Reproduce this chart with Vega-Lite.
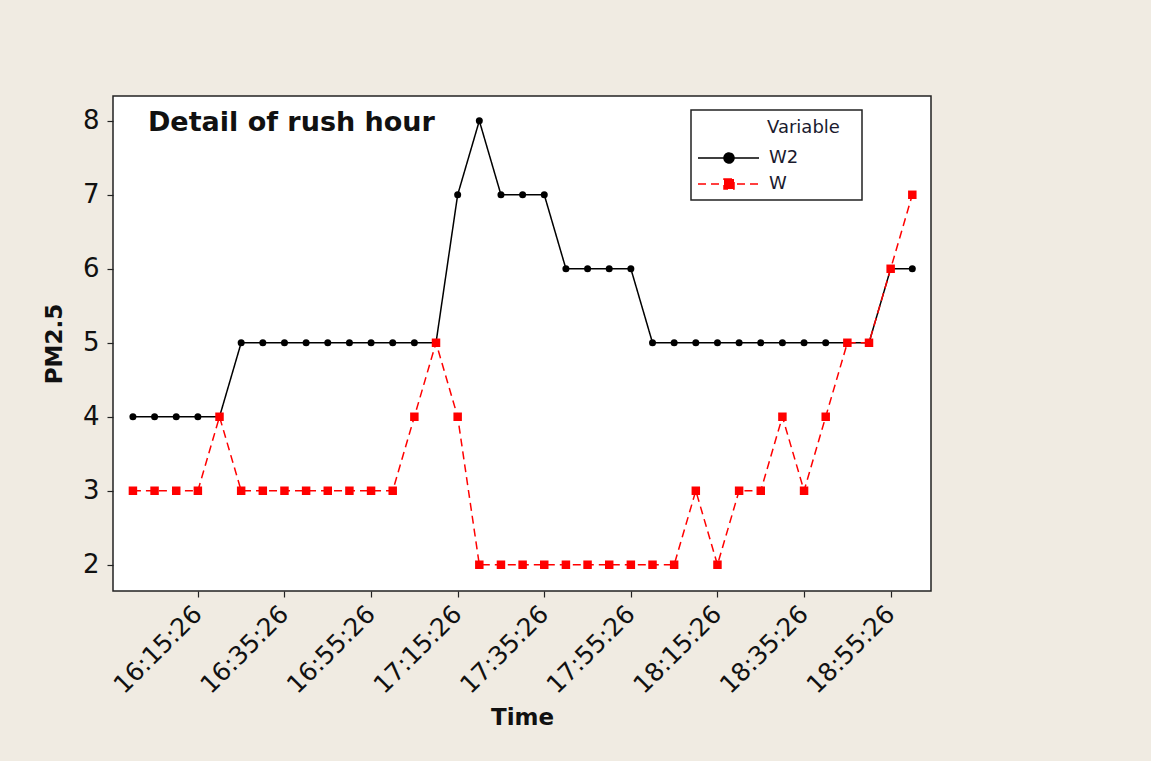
{
  "$schema": "https://vega.github.io/schema/vega-lite/v6.json",
  "autosize": "none",
  "width": 818,
  "height": 495,
  "padding": {"left": 113, "top": 96, "right": 220, "bottom": 170},
  "background": "#F0EBE2",
  "config": {
    "view": {"fill": "white", "stroke": "#222", "strokeWidth": 1.5},
    "font": "DejaVu Sans",
    "axis": {"grid": false, "domain": false, "tickColor": "#222", "tickWidth": 1.2, "labelColor": "#111", "titleColor": "#111", "labelFont": "DejaVu Sans", "titleFont": "DejaVu Sans", "titleFontWeight": "bold", "titleFontSize": 23}
  },
  "datasets": {
    "pm": [
      {"t": "2024-01-01T16:00:26", "series": "W2", "v": 4},
      {"t": "2024-01-01T16:05:26", "series": "W2", "v": 4},
      {"t": "2024-01-01T16:10:26", "series": "W2", "v": 4},
      {"t": "2024-01-01T16:15:26", "series": "W2", "v": 4},
      {"t": "2024-01-01T16:20:26", "series": "W2", "v": 4},
      {"t": "2024-01-01T16:25:26", "series": "W2", "v": 5},
      {"t": "2024-01-01T16:30:26", "series": "W2", "v": 5},
      {"t": "2024-01-01T16:35:26", "series": "W2", "v": 5},
      {"t": "2024-01-01T16:40:26", "series": "W2", "v": 5},
      {"t": "2024-01-01T16:45:26", "series": "W2", "v": 5},
      {"t": "2024-01-01T16:50:26", "series": "W2", "v": 5},
      {"t": "2024-01-01T16:55:26", "series": "W2", "v": 5},
      {"t": "2024-01-01T17:00:26", "series": "W2", "v": 5},
      {"t": "2024-01-01T17:05:26", "series": "W2", "v": 5},
      {"t": "2024-01-01T17:10:26", "series": "W2", "v": 5},
      {"t": "2024-01-01T17:15:26", "series": "W2", "v": 7},
      {"t": "2024-01-01T17:20:26", "series": "W2", "v": 8},
      {"t": "2024-01-01T17:25:26", "series": "W2", "v": 7},
      {"t": "2024-01-01T17:30:26", "series": "W2", "v": 7},
      {"t": "2024-01-01T17:35:26", "series": "W2", "v": 7},
      {"t": "2024-01-01T17:40:26", "series": "W2", "v": 6},
      {"t": "2024-01-01T17:45:26", "series": "W2", "v": 6},
      {"t": "2024-01-01T17:50:26", "series": "W2", "v": 6},
      {"t": "2024-01-01T17:55:26", "series": "W2", "v": 6},
      {"t": "2024-01-01T18:00:26", "series": "W2", "v": 5},
      {"t": "2024-01-01T18:05:26", "series": "W2", "v": 5},
      {"t": "2024-01-01T18:10:26", "series": "W2", "v": 5},
      {"t": "2024-01-01T18:15:26", "series": "W2", "v": 5},
      {"t": "2024-01-01T18:20:26", "series": "W2", "v": 5},
      {"t": "2024-01-01T18:25:26", "series": "W2", "v": 5},
      {"t": "2024-01-01T18:30:26", "series": "W2", "v": 5},
      {"t": "2024-01-01T18:35:26", "series": "W2", "v": 5},
      {"t": "2024-01-01T18:40:26", "series": "W2", "v": 5},
      {"t": "2024-01-01T18:45:26", "series": "W2", "v": 5},
      {"t": "2024-01-01T18:50:26", "series": "W2", "v": 5},
      {"t": "2024-01-01T18:55:26", "series": "W2", "v": 6},
      {"t": "2024-01-01T19:00:26", "series": "W2", "v": 6},
      {"t": "2024-01-01T16:00:26", "series": "W", "v": 3},
      {"t": "2024-01-01T16:05:26", "series": "W", "v": 3},
      {"t": "2024-01-01T16:10:26", "series": "W", "v": 3},
      {"t": "2024-01-01T16:15:26", "series": "W", "v": 3},
      {"t": "2024-01-01T16:20:26", "series": "W", "v": 4},
      {"t": "2024-01-01T16:25:26", "series": "W", "v": 3},
      {"t": "2024-01-01T16:30:26", "series": "W", "v": 3},
      {"t": "2024-01-01T16:35:26", "series": "W", "v": 3},
      {"t": "2024-01-01T16:40:26", "series": "W", "v": 3},
      {"t": "2024-01-01T16:45:26", "series": "W", "v": 3},
      {"t": "2024-01-01T16:50:26", "series": "W", "v": 3},
      {"t": "2024-01-01T16:55:26", "series": "W", "v": 3},
      {"t": "2024-01-01T17:00:26", "series": "W", "v": 3},
      {"t": "2024-01-01T17:05:26", "series": "W", "v": 4},
      {"t": "2024-01-01T17:10:26", "series": "W", "v": 5},
      {"t": "2024-01-01T17:15:26", "series": "W", "v": 4},
      {"t": "2024-01-01T17:20:26", "series": "W", "v": 2},
      {"t": "2024-01-01T17:25:26", "series": "W", "v": 2},
      {"t": "2024-01-01T17:30:26", "series": "W", "v": 2},
      {"t": "2024-01-01T17:35:26", "series": "W", "v": 2},
      {"t": "2024-01-01T17:40:26", "series": "W", "v": 2},
      {"t": "2024-01-01T17:45:26", "series": "W", "v": 2},
      {"t": "2024-01-01T17:50:26", "series": "W", "v": 2},
      {"t": "2024-01-01T17:55:26", "series": "W", "v": 2},
      {"t": "2024-01-01T18:00:26", "series": "W", "v": 2},
      {"t": "2024-01-01T18:05:26", "series": "W", "v": 2},
      {"t": "2024-01-01T18:10:26", "series": "W", "v": 3},
      {"t": "2024-01-01T18:15:26", "series": "W", "v": 2},
      {"t": "2024-01-01T18:20:26", "series": "W", "v": 3},
      {"t": "2024-01-01T18:25:26", "series": "W", "v": 3},
      {"t": "2024-01-01T18:30:26", "series": "W", "v": 4},
      {"t": "2024-01-01T18:35:26", "series": "W", "v": 3},
      {"t": "2024-01-01T18:40:26", "series": "W", "v": 4},
      {"t": "2024-01-01T18:45:26", "series": "W", "v": 5},
      {"t": "2024-01-01T18:50:26", "series": "W", "v": 5},
      {"t": "2024-01-01T18:55:26", "series": "W", "v": 6},
      {"t": "2024-01-01T19:00:26", "series": "W", "v": 7}
    ]
  },
  "data": {"name": "pm"},
  "encoding": {
    "x": {
      "field": "t", "type": "temporal", "title": "Time",
      "scale": {"domain": [
        {"year": 2024, "month": 1, "date": 1, "hours": 15, "minutes": 55, "seconds": 50},
        {"year": 2024, "month": 1, "date": 1, "hours": 19, "minutes": 4, "seconds": 45}
      ]},
      "axis": {
        "values": [
          {"year": 2024, "month": 1, "date": 1, "hours": 16, "minutes": 15, "seconds": 26},
          {"year": 2024, "month": 1, "date": 1, "hours": 16, "minutes": 35, "seconds": 26},
          {"year": 2024, "month": 1, "date": 1, "hours": 16, "minutes": 55, "seconds": 26},
          {"year": 2024, "month": 1, "date": 1, "hours": 17, "minutes": 15, "seconds": 26},
          {"year": 2024, "month": 1, "date": 1, "hours": 17, "minutes": 35, "seconds": 26},
          {"year": 2024, "month": 1, "date": 1, "hours": 17, "minutes": 55, "seconds": 26},
          {"year": 2024, "month": 1, "date": 1, "hours": 18, "minutes": 15, "seconds": 26},
          {"year": 2024, "month": 1, "date": 1, "hours": 18, "minutes": 35, "seconds": 26},
          {"year": 2024, "month": 1, "date": 1, "hours": 18, "minutes": 55, "seconds": 26}
        ],
        "format": "%H:%M:%S", "labelAngle": -45, "labelFontSize": 25, "tickSize": 6,
        "labelPadding": 4, "labelOffset": -9, "titlePadding": 8, "labelFlush": false, "labelOverlap": false
      }
    },
    "y": {
      "field": "v", "type": "quantitative", "title": "PM2.5",
      "scale": {"domain": [1.645, 8.335], "nice": false, "zero": false},
      "axis": {"values": [2, 3, 4, 5, 6, 7, 8], "labelFontSize": 26, "tickSize": 6, "labelPadding": 8, "titlePadding": 16, "labelFlush": false}
    }
  },
  "layer": [
    {
      "mark": {"type": "line", "strokeWidth": 1.5},
      "encoding": {
        "color": {
          "field": "series", "type": "nominal",
          "scale": {"domain": ["W2", "W"], "range": ["#000000", "#FF0000"]},
          "legend": {
            "title": "Variable", "orient": "none", "legendX": 578, "legendY": 14,
            "fillColor": "white", "strokeColor": "#222", "padding": 7,
            "titleFont": "DejaVu Sans", "titleFontSize": 18, "titleFontWeight": "normal", "titleColor": "#1a1a2e",
            "labelFont": "DejaVu Sans", "labelFontSize": 18, "labelColor": "#1a1a2e", "labelOffset": 49,
            "rowPadding": 6, "titlePadding": 12,
            "encode": {
              "legend": {"update": {"strokeWidth": {"value": 1.5}}},
              "title": {"update": {"dx": {"value": 69}, "dy": {"value": 2}}},
              "symbols": {"update": {
                "shape": {"signal": "datum.value === 'W2' ? 'M-1.1,0L5,0M2.5,0A0.5,0.5,0,1,1,1.5,0A0.5,0.5,0,1,1,2.5,0ZM14.3,0' : 'M-1.1,0L5,0M1.5,-0.5L2.5,-0.5L2.5,0.5L1.5,0.5ZM14.3,0'"},
                "size": {"value": 400},
                "fill": {"signal": "datum.value === 'W2' ? '#000000' : '#FF0000'"},
                "stroke": {"signal": "datum.value === 'W2' ? '#000000' : '#FF0000'"},
                "strokeDash": {"signal": "datum.value === 'W2' ? [1, 0] : [14, 9]"},
                "strokeWidth": {"value": 1.5},
                "opacity": {"value": 1}
              }}
            }
          }
        },
        "strokeDash": {
          "field": "series", "type": "nominal",
          "scale": {"domain": ["W2", "W"], "range": [[1, 0], [8, 5]]},
          "legend": null
        }
      }
    },
    {
      "transform": [{"filter": "datum.series === 'W2'"}],
      "mark": {"type": "point", "shape": "circle", "filled": true, "opacity": 1, "size": 49, "color": "#000000"}
    },
    {
      "transform": [{"filter": "datum.series === 'W'"}],
      "mark": {"type": "point", "shape": "square", "filled": true, "opacity": 1, "size": 72, "color": "#FF0000"}
    },
    {
      "transform": [{"aggregate": [{"op": "min", "field": "t", "as": "t0"}, {"op": "max", "field": "v", "as": "vmax"}]}],
      "mark": {"type": "text", "align": "left", "baseline": "middle", "font": "DejaVu Sans", "fontWeight": "bold", "fontSize": 27, "fill": "#111", "dx": 15, "dy": 2},
      "encoding": {
        "x": {"field": "t0", "type": "temporal", "title": "Time"},
        "y": {"field": "vmax", "type": "quantitative", "title": "PM2.5"},
        "text": {"value": "Detail of rush hour"}
      }
    }
  ]
}
